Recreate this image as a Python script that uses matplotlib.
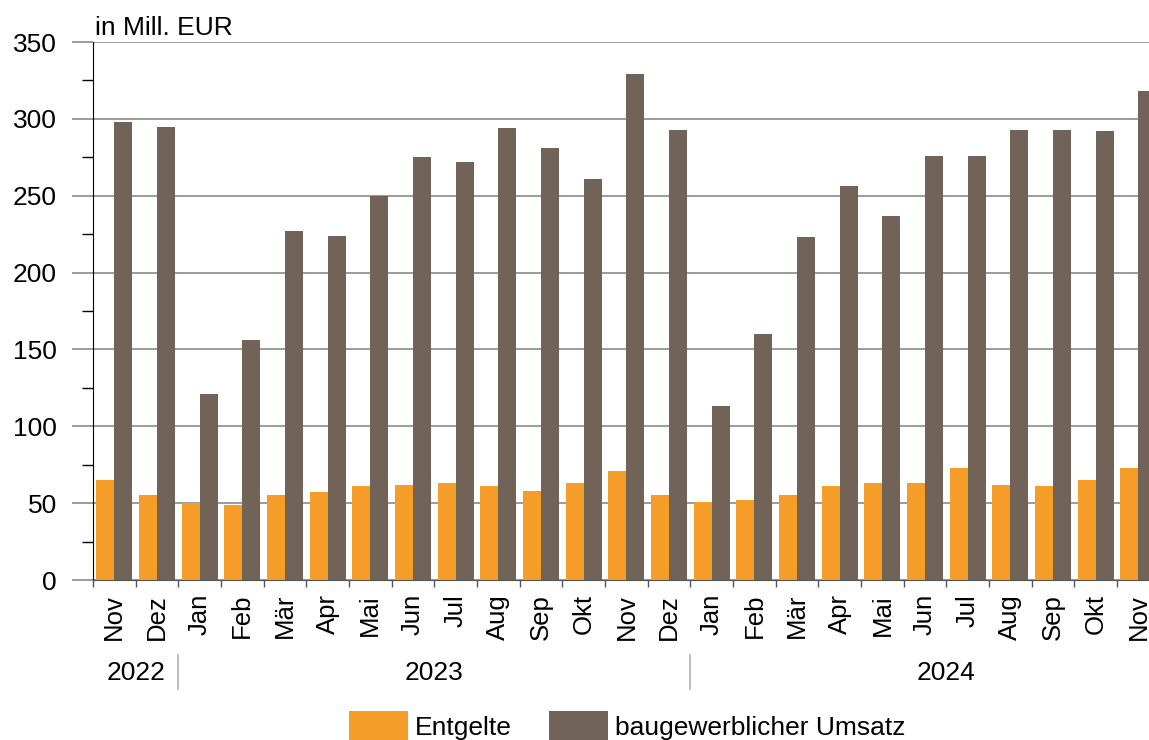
import matplotlib.pyplot as plt
from matplotlib.ticker import MultipleLocator
from matplotlib.transforms import blended_transform_factory

months = ['Nov', 'Dez', 'Jan', 'Feb', 'Mär', 'Apr', 'Mai', 'Jun', 'Jul', 'Aug', 'Sep', 'Okt',
          'Nov', 'Dez', 'Jan', 'Feb', 'Mär', 'Apr', 'Mai', 'Jun', 'Jul', 'Aug', 'Sep', 'Okt', 'Nov']
entgelte = [65, 55, 50, 49, 55, 57, 61, 62, 63, 61, 58, 63,
            71, 55, 51, 52, 55, 61, 63, 63, 73, 62, 61, 65, 73]
umsatz = [298, 295, 121, 156, 227, 224, 250, 275, 272, 294, 281, 261,
          329, 293, 113, 160, 223, 256, 237, 276, 276, 293, 293, 292, 318]
years = ['2022', '2023', '2024']
year_start = [0, 2, 14]
year_end = [2, 14, 26]

orange = '#F59D29'
brown = '#716357'
grid = '#8a8a8a'
fs = 19
plt.rcParams['font.family'] = ['Liberation Sans', 'DejaVu Sans']

fig = plt.figure(figsize=(11.49, 7.40), dpi=100)
ax = fig.add_axes([93 / 1149, 1 - 580 / 740, 26 * 42.67 / 1149, 538 / 740])

x = [i + 0.5 for i in range(len(months))]
w = 0.42
ax.bar([v - w / 2 for v in x], entgelte, width=w, color=orange, zorder=3, label='Entgelte')
ax.bar([v + w / 2 for v in x], umsatz, width=w, color=brown, zorder=3, label='baugewerblicher Umsatz')

ax.set_ylim(0, 350)
ax.set_xlim(0, 26)
ax.yaxis.set_major_locator(MultipleLocator(50))
ax.yaxis.set_minor_locator(MultipleLocator(25))
ax.grid(axis='y', which='major', color=grid, linewidth=1.2, zorder=0)
ax.tick_params(axis='y', which='major', length=15, width=1.2, color=grid, labelsize=fs, pad=11)
ax.tick_params(axis='y', which='minor', length=8, width=1, color='black')

ax.set_xticks(range(0, 26))
ax.set_xticklabels([])
ax.set_xticks(x, minor=True)
ax.set_xticklabels(months, minor=True, rotation=90, fontsize=18.5)
ax.tick_params(axis='x', which='major', length=5, width=1, color='#555555')
ax.tick_params(axis='x', which='minor', length=0, pad=10)

for s in ['top', 'right']:
    ax.spines[s].set_visible(False)
ax.spines['left'].set_color('black')
ax.spines['bottom'].set_color('#555555')

trans = blended_transform_factory(ax.transData, fig.transFigure)
for name, a, b in zip(years, year_start, year_end):
    ax.text((a + b) / 2, 1 - 673 / 740, name, transform=trans, ha='center', va='center', fontsize=fs)
for b in year_end[:-1]:
    ax.plot([b, b], [1 - 655 / 740, 1 - 689 / 740], transform=trans, color='#b0b0b0',
            linewidth=1.2, clip_on=False)

fig.text(95 / 1149, 1 - 28 / 740, 'in Mill. EUR', fontsize=fs, va='center', ha='left')

fig.legend(loc='upper left', bbox_to_anchor=(349 / 1149, 1 - 711 / 740), ncol=2, frameon=False,
           fontsize=fs, handlelength=2.23, handleheight=1.35, handletextpad=0.27,
           columnspacing=1.4, borderaxespad=0, borderpad=0)

fig.savefig('out.png', dpi=100)
